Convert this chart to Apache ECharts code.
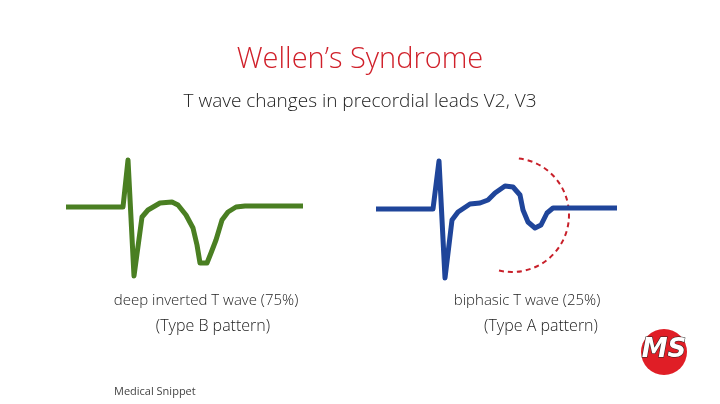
<!DOCTYPE html>
<html>
<head>
<meta charset="utf-8">
<script src="https://cdn.jsdelivr.net/npm/echarts@6/dist/echarts.min.js"></script>
<style>html,body{margin:0;background:#fff}#c{width:720px;height:404px}</style>
</head>
<body>
<div id="c"></div>
<script>
// waveform traces, in picture pixel space
var typeB = [[66,207],[123,207],[128,160],[134,276],[142,217],[148,210],[160,203],[172,202],[178,205],[186,215],[193,228],[197,245],[200,263],[207,263],[211,253],[216,240],[222,220],[228,212],[236,207],[245,206],[303,206]];
var typeA = [[376,209],[433,209],[439,161],[445,278],[452,220],[458,212],[470,204],[480,203],[488,200],[495,193],[505,186],[513,187],[520,195],[523,210],[528,222],[535,228],[541,225],[547,213],[553,208],[617,208]];
var captions = ['deep inverted T wave (75%)', '(Type B pattern)', 'biphasic T wave (25%)', '(Type A pattern)'];

var chart = echarts.init(document.getElementById('c'));
var font = '"Open Sans", sans-serif';
chart.setOption({
    animation: false,
    grid: {left: 0, right: 0, top: 0, bottom: 0},
    xAxis: {type: 'value', min: 0, max: 720, show: false},
    yAxis: {type: 'value', min: 0, max: 404, inverse: true, show: false},
    series: [
    {
        type: 'line',
        data: typeB,
        symbol: 'none',
        lineStyle: {color: '#4a7f22', width: 5, join: 'round'}
    },
    {
        type: 'line',
        data: typeA,
        symbol: 'none',
        lineStyle: {color: '#1f459a', width: 5, join: 'round'}
    }],
    graphic: [
        {type: 'text', x: 360, y: 60, style: {text: 'Wellen\u2019s Syndrome', font: '300 29px ' + font, fill: '#d0202a', align: 'center', verticalAlign: 'middle'}},
        {type: 'text', x: 360, y: 102, style: {text: 'T wave changes in precordial leads V2, V3', font: '300 19px ' + font, fill: '#222', align: 'center', verticalAlign: 'middle'}},
        {type: 'text', x: 206, y: 301, style: {text: captions[0], font: '300 15px ' + font, fill: '#222', align: 'center', verticalAlign: 'middle'}},
        {type: 'text', x: 213, y: 326, style: {text: captions[1], font: '300 16px ' + font, fill: '#222', align: 'center', verticalAlign: 'middle'}},
        {type: 'text', x: 527, y: 301, style: {text: captions[2], font: '300 15px ' + font, fill: '#222', align: 'center', verticalAlign: 'middle'}},
        {type: 'text', x: 541, y: 326, style: {text: captions[3], font: '300 16px ' + font, fill: '#222', align: 'center', verticalAlign: 'middle'}},
        {type: 'text', x: 114, y: 392, style: {text: 'Medical Snippet', font: '11px ' + font, fill: '#444', verticalAlign: 'middle'}},
        {type: 'arc', shape: {cx: 512, cy: 215, r: 57, startAngle: -1.45, endAngle: 1.85, clockwise: true},
            style: {stroke: '#c8202a', lineWidth: 2, lineDash: [5, 4], fill: null}},
        {type: 'circle', shape: {cx: 664, cy: 352, r: 23}, style: {fill: '#e01e26'}},
        {type: 'text', x: 664, y: 350, style: {text: 'MS', font: 'italic bold 26px "DejaVu Sans"', fill: '#fff', stroke: '#222', lineWidth: 1, align: 'center', verticalAlign: 'middle'}}
    ]
});
</script>
</body>
</html>
